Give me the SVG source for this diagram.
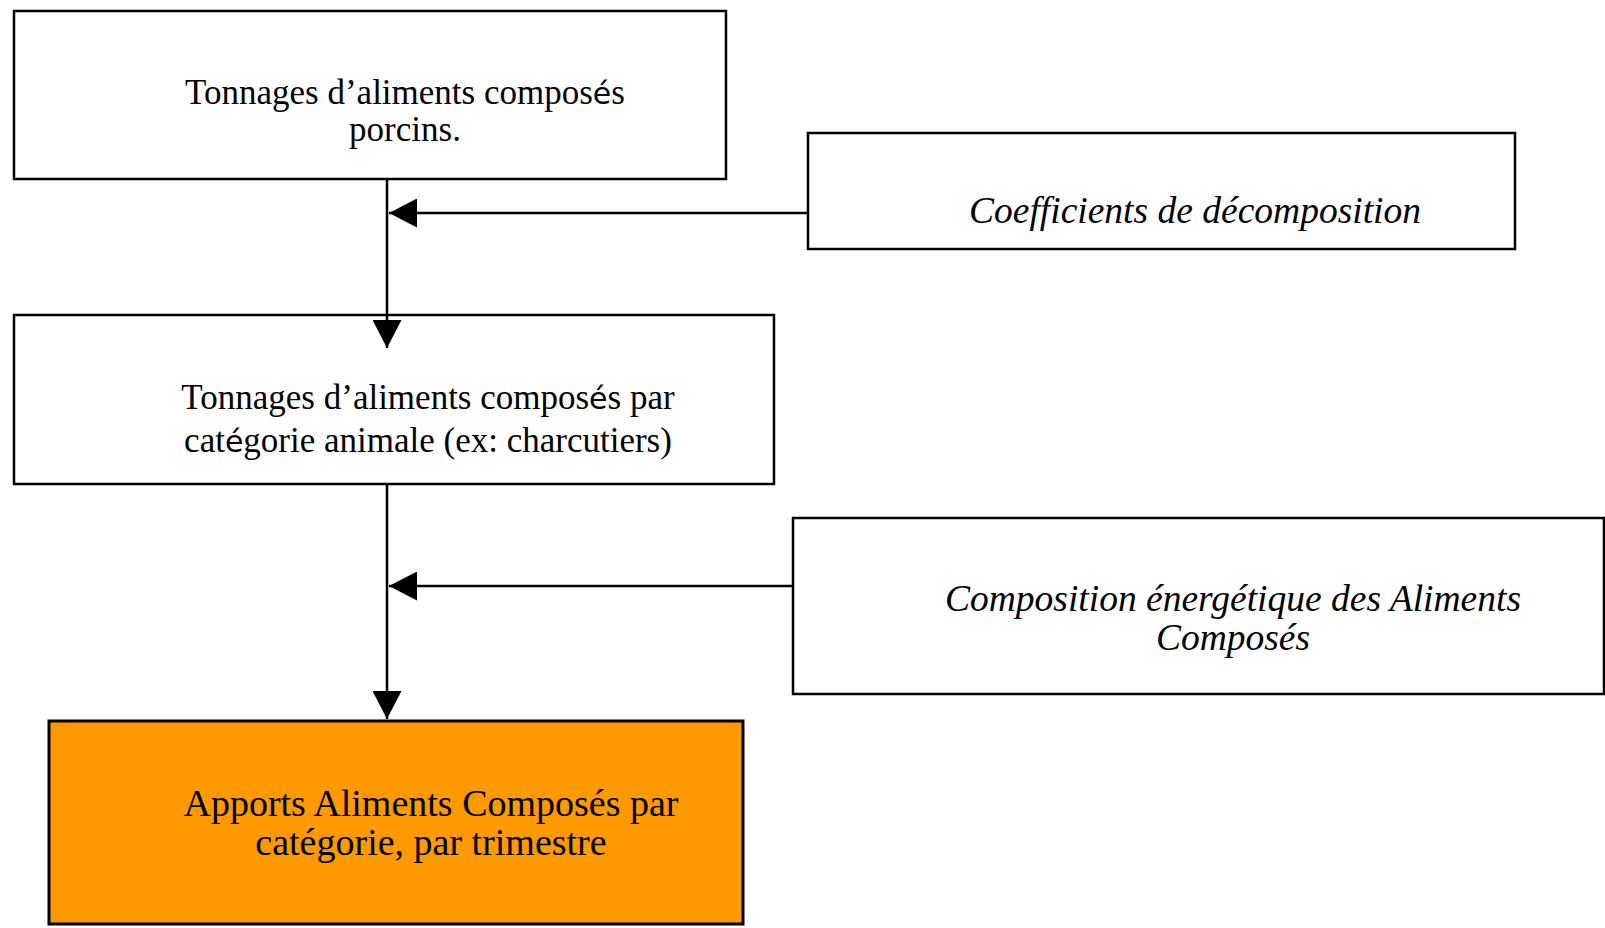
<svg xmlns="http://www.w3.org/2000/svg" width="1605" height="928" viewBox="0 0 1605 928">
<style>
.box{fill:#fff;stroke:#000;stroke-width:2.5}
.out{fill:#ff9900;stroke:#000;stroke-width:3}
.g{font-family:"Liberation Serif","Times New Roman",serif;font-size:35px;fill:#000;text-anchor:middle}
.s{font-family:"DejaVu Sans",sans-serif;font-size:30px}
.i{font-family:"Liberation Serif","Times New Roman",serif;font-style:italic;font-size:37.5px;fill:#000;text-anchor:middle}
.t{font-family:"Liberation Serif","Times New Roman",serif;font-size:38px;fill:#000;text-anchor:middle}
.c{stroke:#000;stroke-width:2.5;fill:none}
</style>
<defs>
<marker id="ah" viewBox="0 0 28 29" refX="28" refY="14.5" markerWidth="28" markerHeight="29" markerUnits="userSpaceOnUse" orient="auto">
<path d="M0,0 L28,14.5 L0,29 Z" fill="#000"/>
</marker>
</defs>
<g id="n1">
<rect class="box" x="14" y="11" width="712" height="168"/>
<text class="g" x="405" y="104">Tonnages d’aliments compos<tspan class="s">é</tspan>s</text>
<text class="g" x="405" y="141">porcins.</text>
</g>
<g id="n2">
<rect class="box" x="808" y="133" width="707" height="116"/>
<text class="i" x="1195" y="223">Coefficients de décomposition</text>
</g>
<g id="n3">
<rect class="box" x="14" y="315" width="760" height="169"/>
<text class="g" x="428" y="409">Tonnages d’aliments compos<tspan class="s">é</tspan>s par</text>
<text class="g" x="428" y="452">cat<tspan class="s">é</tspan>gorie animale (ex: charcutiers)</text>
</g>
<g id="n4">
<rect class="box" x="793" y="518" width="811" height="176"/>
<text class="i" x="1233" y="611">Composition énergétique des Aliments</text>
<text class="i" x="1233" y="650">Composés</text>
</g>
<g id="n5">
<rect class="out" x="49" y="721" width="694" height="203"/>
<text class="t" x="431" y="816">Apports Aliments Composés par</text>
<text class="t" x="431" y="855">catégorie, par trimestre</text>
</g>
<g id="connectors">
<path class="c" d="M387,179 V348" marker-end="url(#ah)"/>
<path class="c" d="M808,213 H389" marker-end="url(#ah)"/>
<path class="c" d="M387,484 V719" marker-end="url(#ah)"/>
<path class="c" d="M793,586 H389" marker-end="url(#ah)"/>
</g>
</svg>
